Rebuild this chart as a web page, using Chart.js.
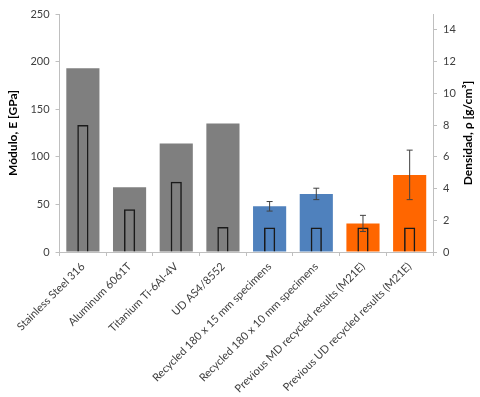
<!DOCTYPE html>
<html>
<head>
<meta charset="utf-8">
<script src="https://cdn.jsdelivr.net/npm/chart.js@4"></script>
<style>
  html, body { margin: 0; padding: 0; background: #fff; }
  #wrap { width: 480px; height: 397px; }
</style>
</head>
<body>
<div id="wrap"><canvas id="chart" width="480" height="397"></canvas></div>
<script>
// Chart data
const categories = [
    'Stainless Steel 316', 'Aluminum 6061T', 'Titanium Ti-6Al-4V', 'UD AS4/8552',
    'Recycled 180 x 15 mm specimens', 'Recycled 180 x 10 mm specimens',
    'Previous MD recycled results (M21E)', 'Previous UD recycled results (M21E)'
];
const modulus = [193, 68, 114, 135, 48, 61, 30, 81];
const modulusError = [0, 0, 0, 0, 5, 6, 8.5, 26];
const density = [8.0, 2.7, 4.43, 1.58, 1.55, 1.55, 1.55, 1.55];
const barColors = ['#7f7f7f', '#7f7f7f', '#7f7f7f', '#7f7f7f', '#4f81bd', '#4f81bd', '#ff6600', '#ff6600'];
const leftTicks = [0, 50, 100, 150, 200, 250];
const rightTicks = [0, 2, 4, 6, 8, 10, 12, 14];

const fontFamily = 'Lato, "Open Sans", sans-serif';
const axisColor = '#bfbfbf';

// Error bars on the modulus dataset
const errorBarPlugin = {
    id: 'errorBars',
    afterDatasetsDraw(chart) {
        const ctx = chart.ctx;
        const meta = chart.getDatasetMeta(0);
        const y = chart.scales.y;
        ctx.save();
        ctx.strokeStyle = '#404040';
        ctx.lineWidth = 1;
        modulus.forEach((v, i) => {
            const e = modulusError[i];
            if (!e) return;
            const x = meta.data[i].x;
            const top = y.getPixelForValue(v + e);
            const bot = y.getPixelForValue(v - e);
            ctx.beginPath();
            ctx.moveTo(x, top); ctx.lineTo(x, bot);
            ctx.moveTo(x - 3, top); ctx.lineTo(x + 3, top);
            ctx.moveTo(x - 3, bot); ctx.lineTo(x + 3, bot);
            ctx.stroke();
        });
        ctx.restore();
    }
};

// Right axis title reading bottom to top
const rightTitlePlugin = {
    id: 'rightTitle',
    afterDraw(chart) {
        const ctx = chart.ctx;
        const area = chart.chartArea;
        ctx.save();
        ctx.translate(468, (area.top + area.bottom) / 2);
        ctx.rotate(-Math.PI / 2);
        ctx.font = 'bold 12px ' + fontFamily;
        ctx.fillStyle = '#000';
        ctx.textAlign = 'center';
        ctx.textBaseline = 'middle';
        ctx.fillText('Densidad, ρ [g/cm³]', 0, 0);
        ctx.restore();
    }
};

const ctx = document.getElementById('chart').getContext('2d');
new Chart(ctx, {
    type: 'bar',
    data: {
        labels: categories,
        datasets: [{
            label: 'Módulo',
            data: modulus,
            backgroundColor: barColors,
            borderWidth: 0,
            yAxisID: 'y',
            grouped: false,
            order: 2,
            barPercentage: 0.71,
            categoryPercentage: 1
        }, {
            label: 'Densidad',
            data: density,
            backgroundColor: 'rgba(0,0,0,0)',
            borderColor: '#1a1a1a',
            borderWidth: 1.5,
            yAxisID: 'y1',
            grouped: false,
            order: 1,
            barPercentage: 0.24,
            categoryPercentage: 1
        }]
    },
    options: {
        responsive: false,
        animation: false,
        layout: { padding: { top: 14, left: 2, right: 0, bottom: 0 } },
        plugins: {
            legend: { display: false },
            tooltip: { enabled: false }
        },
        scales: {
            x: {
                offset: true,
                afterFit: s => { s.height = 145; },
                grid: { display: true, drawOnChartArea: false, offset: true, color: axisColor, tickLength: 4 },
                border: { color: axisColor },
                ticks: {
                    color: '#404040',
                    font: { family: fontFamily, size: 11 },
                    maxRotation: 45,
                    minRotation: 45,
                    autoSkip: false,
                    padding: 4
                }
            },
            y: {
                position: 'left',
                min: 0,
                max: 250,
                afterBuildTicks: s => { s.ticks = leftTicks.map(v => ({ value: v })); },
                grid: { drawOnChartArea: false, color: axisColor, tickLength: 4 },
                border: { color: axisColor },
                ticks: { color: '#404040', font: { family: fontFamily, size: 11 }, padding: 6 },
                title: {
                    display: true,
                    text: 'Módulo, E [GPa]',
                    color: '#000',
                    font: { family: fontFamily, size: 12, weight: 'bold' },
                    padding: 4
                }
            },
            y1: {
                position: 'right',
                min: 0,
                max: 15,
                afterBuildTicks: s => { s.ticks = rightTicks.map(v => ({ value: v })); },
                afterFit: s => { s.width = 47; },
                grid: { drawOnChartArea: false, color: axisColor, tickLength: 4 },
                border: { color: axisColor },
                ticks: { color: '#404040', font: { family: fontFamily, size: 11 }, padding: 6 }
            }
        }
    },
    plugins: [errorBarPlugin, rightTitlePlugin]
});
</script>
</body>
</html>
